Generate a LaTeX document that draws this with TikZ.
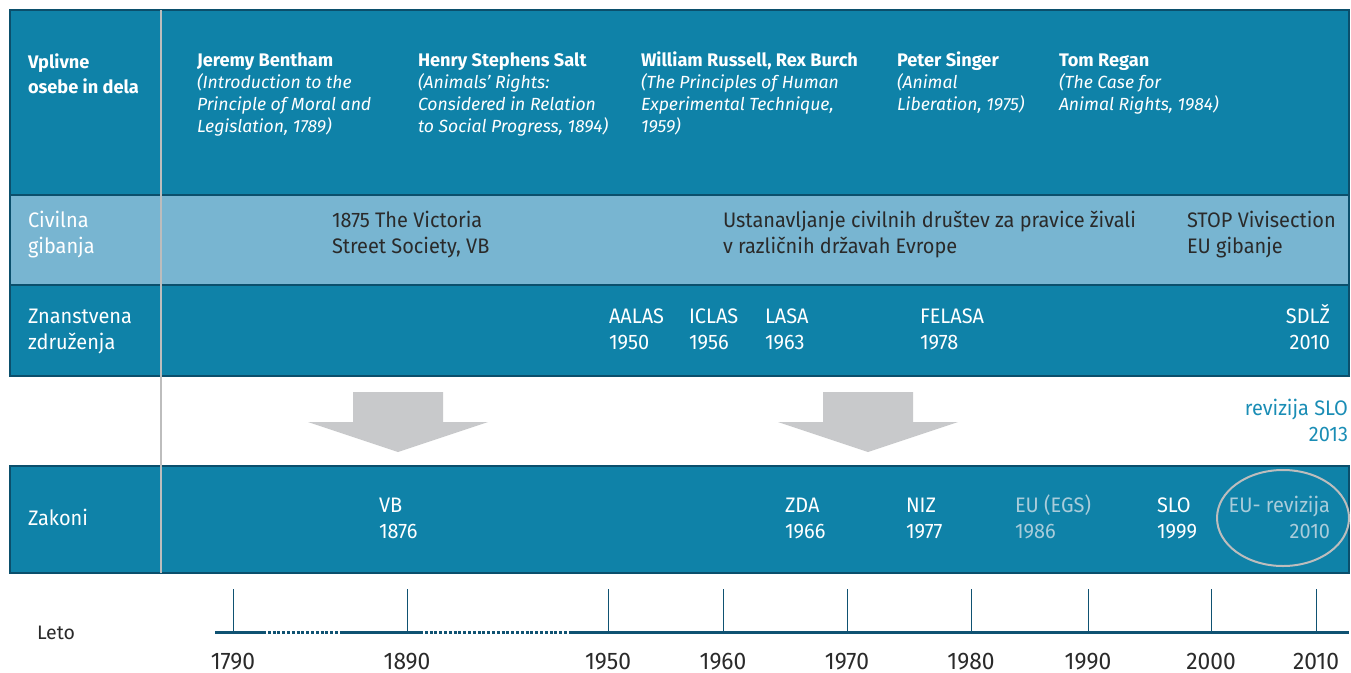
\documentclass[tikz,border=0pt]{standalone}
\usepackage{fontspec}
\setmainfont{Fira Sans}
\newfontfamily\cond{Fira Sans}[FakeStretch=0.95]
\definecolor{mainblue}{HTML}{0F82A8}
\definecolor{darkblue}{HTML}{0B4F6C}
\definecolor{lightblue}{HTML}{78B5D1}
\definecolor{arrowgray}{HTML}{C8C9CB}
\definecolor{linegray}{HTML}{BDBDBD}
\definecolor{fadetext}{HTML}{A9CCDA}
\definecolor{tealtext}{HTML}{1A8DB5}
\definecolor{darktext}{HTML}{2A2A2A}
\definecolor{axisblue}{HTML}{0F5272}
\newcommand\mlines[2]{\begin{tabular}[t]{@{}#1@{}}#2\end{tabular}}
\begin{document}
\begin{tikzpicture}[x=1pt,y=-1pt,
  every node/.style={inner sep=0pt,outer sep=0pt},
  toptext/.style={text=white,font=\fontsize{17.6}{22}\selectfont,anchor=base west},
  rowlabel/.style={text=white,font=\cond\fontsize{21}{26}\selectfont,anchor=base west},
  lighttext/.style={text=darktext,font=\cond\fontsize{21}{26}\selectfont,anchor=base west},
  whitetext/.style={text=white,font=\cond\fontsize{21}{26}\selectfont,anchor=base west},
  fadedtext/.style={text=fadetext,font=\cond\fontsize{21}{26}\selectfont,anchor=base west},
  yeartext/.style={text=darktext,font=\cond\fontsize{24}{26}\selectfont,anchor=base},
  bigarrow/.style={fill=arrowgray},
  tickline/.style={axisblue,line width=1pt},
  axisline/.style={axisblue,line width=3pt},
  axisdots/.style={axisblue,line width=3pt,dash pattern=on 3pt off 1.8pt}
]
\useasboundingbox (0,0) rectangle (1351,672);
% top table
\fill[mainblue] (10,10) rectangle (1349,195);
\fill[lightblue] (10,195) rectangle (1349,285);
\fill[mainblue] (10,285) rectangle (1349,376);
\draw[darkblue,line width=2.5pt] (10,195) -- (1349,195);
\draw[darkblue,line width=2.5pt] (10,285) -- (1349,285);
\draw[darkblue,line width=2.5pt] (10,10) rectangle (1349,376);
% laws box
\fill[mainblue] (10,466) rectangle (1349,573);
\draw[darkblue,line width=2.5pt] (10,466) rectangle (1349,573);
% gray vertical line
\coordinate (vtop) at (161,10);
\coordinate (vbot) at (161,573);
\draw[linegray,line width=2pt] (vtop) -- (vbot);
% arrows
\fill[bigarrow] (353,392) -- (443,392) -- (443,422) -- (488,422) -- (398,452) -- (308,422) -- (353,422) -- cycle;
\fill[bigarrow] (823,392) -- (913,392) -- (913,422) -- (958,422) -- (868,452) -- (778,422) -- (823,422) -- cycle;
% row 1
\node[toptext,font=\fontsize{18.2}{25}\selectfont] (lab1) at (28,68) {\mlines{l}{\bfseries Vplivne\\\bfseries osebe in dela}};
\node[toptext] (bentham) at (197,66) {\mlines{l}{\fontsize{18.2}{22}\selectfont\bfseries Jeremy Bentham\\\itshape (Introduction to the\\\itshape Principle of Moral and\\\itshape Legislation, 1789)}};
\node[toptext] (salt) at (418,66) {\mlines{l}{\fontsize{18.2}{22}\selectfont\bfseries Henry Stephens Salt\\\itshape (Animals' Rights:\\\itshape Considered in Relation\\\itshape to Social Progress, 1894)}};
\node[toptext] (russell) at (641,66) {\mlines{l}{\fontsize{18.2}{22}\selectfont\bfseries William Russell, Rex Burch\\\itshape (The Principles of Human\\\itshape Experimental Technique,\\\itshape 1959)}};
\node[toptext] (singer) at (897,66) {\mlines{l}{\fontsize{18.2}{22}\selectfont\bfseries Peter Singer\\\itshape (Animal\\\itshape Liberation, 1975)}};
\node[toptext] (regan) at (1059,66) {\mlines{l}{\fontsize{18.2}{22}\selectfont\bfseries Tom Regan\\\itshape (The Case for\\\itshape Animal Rights, 1984)}};
% row 2
\node[rowlabel] (lab2) at (28,227) {\mlines{l}{Civilna\\gibanja}};
\node[lighttext] (victoria) at (332,227) {\mlines{l}{1875 The Victoria\\Street Society, VB}};
\node[lighttext] (ustan) at (723,227) {\mlines{l}{Ustanavljanje civilnih društev za pravice živali\\v različnih državah Evrope}};
\node[lighttext] (stop) at (1187,227) {\mlines{l}{STOP Vivisection\\EU gibanje}};
% row 3
\node[rowlabel] (lab3) at (28,323) {\mlines{l}{Znanstvena\\združenja}};
\node[whitetext] (aalas) at (609,323) {\mlines{l}{AALAS\\1950}};
\node[whitetext] (iclas) at (689,323) {\mlines{l}{ICLAS\\1956}};
\node[whitetext] (lasa) at (765,323) {\mlines{l}{LASA\\1963}};
\node[whitetext] (felasa) at (920,323) {\mlines{l}{FELASA\\1978}};
\node[whitetext,anchor=base east] (sdlz) at (1330,323) {\mlines{r}{SDLŽ\\2010}};
% revision
\node[text=tealtext,font=\cond\fontsize{21}{26}\selectfont,anchor=base east] (revslo) at (1348,415) {\mlines{r}{revizija SLO\\2013}};
% laws
\node[rowlabel] (lab4) at (28,525) {Zakoni};
\node[whitetext] (vb) at (379,512) {\mlines{l}{VB\\1876}};
\node[whitetext] (zda) at (785,512) {\mlines{l}{ZDA\\1966}};
\node[whitetext] (niz) at (906,512) {\mlines{l}{NIZ\\1977}};
\node[fadedtext] (eu) at (1015,512) {\mlines{l}{EU (EGS)\\1986}};
\node[whitetext] (slo) at (1157,512) {\mlines{l}{SLO\\1999}};
\node[fadedtext,anchor=base east] (eurev) at (1330,512) {\mlines{r}{EU- revizija\\2010}};
\draw[linegray,line width=2pt] (1283,518) ellipse [x radius=66, y radius=48];
% timeline
\node[text=darktext,font=\fontsize{19.5}{22}\selectfont,anchor=base west] (leto) at (37,639) {Leto};
\coordinate (a0) at (215,632);
\coordinate (a1) at (263,632);
\coordinate (a2) at (340,632);
\coordinate (a3) at (420,632);
\coordinate (a4) at (570,632);
\coordinate (a5) at (1349,632);
\draw[axisline] (a0) -- (a1);
\draw[axisdots] (a1) -- (a2);
\draw[axisline] (a2) -- (a3);
\draw[axisdots] (a3) -- (a4);
\draw[axisline] (a4) -- (a5);
\foreach \x/\yr in {233/1790,407/1890,608/1950,723/1960,847/1970,971/1980,1088/1990,1211/2000,1316/2010}{
  \coordinate (t\yr) at (\x,589);
  \coordinate (b\yr) at (\x,632);
  \draw[tickline] (t\yr) -- (b\yr);
  \node[yeartext] (y\yr) at (\x,669) {\yr};
}
\end{tikzpicture}
\end{document}
